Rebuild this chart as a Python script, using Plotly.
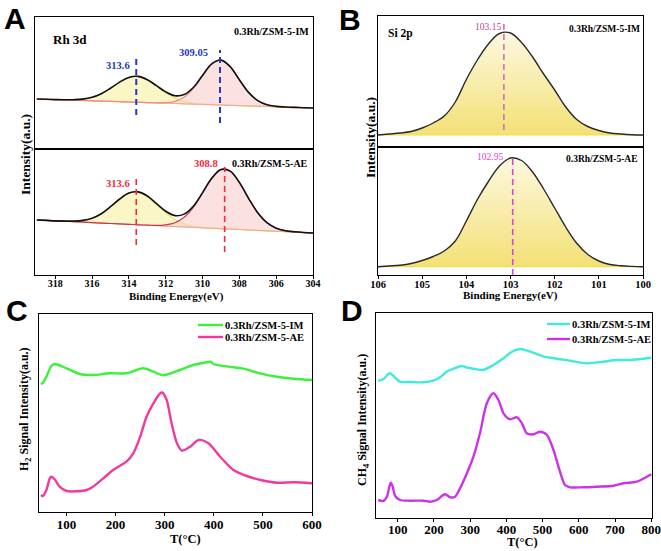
import plotly.graph_objects as go

W, H = 661, 551

# ---------------- Panel A: Rh 3d XPS ----------------
rh_ev = [319.0, 318.5, 318.0, 317.5, 317.0, 316.5, 316.0, 315.5, 315.0, 314.5, 314.0,
         313.5, 313.0, 312.5, 312.0, 311.5, 311.0, 310.5, 310.0, 309.5, 309.0, 308.5,
         308.0, 307.5, 307.0, 306.5, 306.0, 305.5, 305.0, 304.5, 304.0]
im_bg = [50.0, 49.7, 49.4, 49.1, 48.8, 48.5, 48.2, 47.9, 47.6, 47.3, 47.0, 46.7, 46.4, 46.1, 45.8,
         45.5, 45.2, 44.9, 44.6, 44.3, 44.0, 43.7, 43.4, 43.1, 42.8, 42.5, 42.2, 41.9, 41.6, 41.3, 41.0]
im_c1 = [50.0, 49.7, 49.4, 49.2, 49.3, 49.9, 51.7, 55.3, 60.8, 66.9, 71.6, 72.6, 69.3, 63.2, 56.5,
         51.1, 47.7, 45.8, 44.9, 44.4, 44.0, 43.7, 43.4, 43.1, 42.8, 42.5, 42.2, 41.9, 41.6, 41.3, 41.0]
im_c2 = [50.0, 49.7, 49.4, 49.1, 48.8, 48.5, 48.2, 47.9, 47.6, 47.3, 47.0, 46.7, 46.4, 46.2, 46.4,
         47.7, 51.9, 60.6, 73.3, 85.0, 88.9, 82.4, 69.3, 56.6, 48.3, 44.2, 42.6, 42.0, 41.6, 41.3, 41.0]
im_env = [50.0, 49.7, 49.4, 49.2, 49.3, 49.9, 51.7, 55.3, 60.8, 66.9, 71.6, 72.6, 69.3, 63.3, 57.1,
          53.3, 54.4, 61.5, 73.6, 85.1, 88.9, 82.4, 69.3, 56.6, 48.3, 44.2, 42.6, 42.0, 41.6, 41.3, 41.0]

ae_bg = [55.0, 54.6, 54.1, 53.7, 53.3, 52.8, 52.4, 51.9, 51.5, 51.1, 50.7, 50.2, 49.8, 49.3, 48.9,
         48.5, 48.1, 47.6, 47.2, 46.8, 46.3, 45.9, 45.5, 45.0, 44.6, 44.2, 43.7, 43.3, 42.9, 42.4, 42.0]
ae_c1 = [55.0, 54.6, 54.1, 53.9, 53.9, 54.6, 56.8, 61.3, 68.3, 76.0, 81.9, 83.1, 78.9, 71.0, 62.5,
         55.6, 51.3, 48.7, 47.6, 46.9, 46.3, 45.9, 45.5, 45.0, 44.6, 44.2, 43.7, 43.3, 42.9, 42.4, 42.0]
ae_c2 = [55.0, 54.6, 54.1, 53.7, 53.3, 52.8, 52.4, 51.9, 51.5, 51.1, 50.7, 50.2, 49.9, 49.6, 50.2,
         52.3, 57.7, 67.7, 82.0, 96.6, 105.4, 103.9, 92.6, 76.7, 62.2, 52.3, 46.8, 44.3, 43.2, 42.5, 42.0]
ae_env = [55.0, 54.6, 54.1, 53.9, 53.9, 54.6, 56.8, 61.3, 68.3, 76.0, 81.9, 83.1, 79.0, 71.3, 63.8,
          59.4, 60.9, 68.8, 82.4, 96.7, 105.4, 103.9, 92.6, 76.7, 62.2, 52.3, 46.8, 44.3, 43.2, 42.5, 42.0]
rh_peaks_im = [313.6, 309.05]
rh_peaks_ae = [313.6, 308.8]
rh_ticks = [318, 316, 314, 312, 310, 308, 306, 304]

# ---------------- Panel B: Si 2p XPS ----------------
si_ev = [106.0, 105.75, 105.5, 105.25, 105.0, 104.75, 104.5, 104.25, 104.0, 103.75, 103.5, 103.25,
         103.0, 102.75, 102.5, 102.25, 102.0, 101.75, 101.5, 101.25, 101.0, 100.75, 100.5, 100.25, 100.0]
si_im = [12.0, 13.0, 14.0, 15.5, 19.0, 24.0, 31.0, 45.0, 67.5, 87.0, 103.0, 113.5,
         114.0, 104.5, 90.0, 73.0, 57.0, 40.0, 27.5, 20.5, 16.5, 14.0, 13.0, 12.3, 12.0]
si_ae = [8.3, 9.0, 9.8, 11.5, 14.5, 18.5, 24.0, 34.0, 54.0, 75.5, 93.5, 109.0,
         117.0, 114.5, 103.0, 86.0, 67.0, 48.0, 31.7, 20.5, 14.0, 10.5, 9.2, 8.6, 8.3]
si_base_im = 12.0
si_base_ae = 8.3
si_peak_im = 103.15
si_peak_ae = 102.95
si_ticks = [106, 105, 104, 103, 102, 101, 100]

# ---------------- Panel C: H2 signal ----------------
c_im_t = [48, 52, 59, 69, 76, 100, 127, 154, 188, 222, 256, 277, 297, 331, 358, 386, 394, 399,
          440, 460, 494, 529, 563, 600]
c_im_v = [127.7, 129.3, 135.3, 146, 148, 143.7, 138, 137, 138.7, 138.7, 143.7, 140.3, 136.7, 142,
          147, 149.7, 150.3, 148, 144.7, 143.3, 138.7, 135.3, 133.3, 132]
c_ae_t = [48, 52, 59, 66, 69, 76, 86, 100, 120, 141, 154, 175, 195, 222, 236, 250, 263, 277, 291,
          295, 304, 314, 325, 335, 352, 369, 389, 413, 440, 467, 495, 529, 563, 600]
c_ae_v = [17, 16, 22, 33.7, 35.3, 32.7, 25.3, 21, 20.7, 22, 25.3, 33.7, 42, 50.3, 58.7, 75.3, 95.3,
          108.7, 118.7, 119.5, 112, 88.7, 68.7, 61.3, 65.3, 72, 68.7, 55.3, 42, 36, 32, 29.3, 29.7, 28.7]
c_ticks = [100, 200, 300, 400, 500, 600]

# ---------------- Panel D: CH4 signal ----------------
d_im_t = [46, 60, 74, 79, 92, 106, 134, 171, 198, 217, 235, 254, 277, 291, 309, 336, 364, 392, 415,
          438, 466, 502, 539, 576, 622, 668, 705, 742, 779, 800]
d_im_v = [137.3, 138.7, 144, 144.7, 140.7, 136.3, 136, 135.7, 137.3, 140.7, 146.3, 149.3, 152, 150.3,
          149.3, 148, 153, 159.7, 166.3, 169, 166.3, 161.7, 159.3, 157.3, 154.7, 156.3, 158, 158,
          159.3, 160.3]
d_ae_t = [46, 60, 70, 77, 81, 86, 93, 106, 134, 171, 189, 208, 222, 231, 245, 258, 272, 291, 309,
          327, 346, 364, 378, 392, 410, 429, 443, 456, 475, 493, 512, 530, 548, 562, 576, 613, 650,
          696, 723, 760, 800]
d_ae_v = [18, 17, 21.3, 31.3, 35.3, 31.3, 22, 18, 17.3, 17.3, 16.3, 18, 22, 23.7, 20.7, 21.3, 29.7,
          44.7, 61.3, 84.7, 114.7, 124.7, 118, 104.7, 98.7, 100.7, 94.7, 84.7, 83.7, 86.3, 83, 68,
          46.3, 33, 30.7, 30.7, 31.3, 32.3, 34.7, 36.3, 43.7]
d_ticks = [100, 200, 300, 400, 500, 600, 700, 800]

series_names = ["0.3Rh/ZSM-5-IM", "0.3Rh/ZSM-5-AE"]

SERIF = "Liberation Serif"
SANS = "Liberation Sans"


def px(x):
    return x / W


def py(y):
    return 1 - y / H


fig = go.Figure()


def add(tr, n):
    tr.xaxis = "x" if n == 1 else f"x{n}"
    tr.yaxis = "y" if n == 1 else f"y{n}"
    tr.showlegend = False
    fig.add_trace(tr)


# Panel A traces
for n, bg, c1, c2, env, c2line in [(1, im_bg, im_c1, im_c2, im_env, "#f08a8a"),
                                   (2, ae_bg, ae_c1, ae_c2, ae_env, "#c8385a")]:
    add(go.Scatter(x=rh_ev, y=bg, mode="lines", line=dict(color="#e9cf63", width=1.2,
                                                         shape="spline")), n)
    add(go.Scatter(x=rh_ev, y=c1, mode="lines", fill="tonexty",
                   fillcolor="rgba(246,238,150,0.55)",
                   line=dict(color="#ece25a", width=1.2, shape="spline")), n)
    add(go.Scatter(x=rh_ev, y=bg, mode="lines", line=dict(color="#f2a7a0", width=1.0,
                                                         shape="spline")), n)
    add(go.Scatter(x=rh_ev, y=c2, mode="lines", fill="tonexty",
                   fillcolor="rgba(250,205,205,0.6)",
                   line=dict(color=c2line, width=1.2, shape="spline")), n)
    add(go.Scatter(x=rh_ev, y=env, mode="lines",
                   line=dict(color="#111111", width=1.6, shape="spline")), n)

# Panel B traces
for n, yv, base in [(3, si_im, si_base_im), (4, si_ae, si_base_ae)]:
    add(go.Scatter(x=si_ev, y=[base] * len(si_ev), mode="lines",
                   line=dict(color="#f0e04a", width=1.2)), n)
    add(go.Scatter(x=si_ev, y=yv, mode="lines", fill="tonexty",
                   fillgradient=dict(type="vertical", start=base, stop=max(yv),
                                     colorscale=[[0, "#f3e175"], [1, "#fdf8e0"]]),
                   line=dict(color="#2a2a2a", width=1.4, shape="spline")), n)

# Panel C
add(go.Scatter(x=c_im_t, y=c_im_v, mode="lines", name=series_names[0],
               line=dict(color="#3cf03c", width=2.4, shape="spline", smoothing=0.8)), 5)
add(go.Scatter(x=c_ae_t, y=c_ae_v, mode="lines", name=series_names[1],
               line=dict(color="#f23a9c", width=2.4, shape="spline", smoothing=0.8)), 5)
# Panel D
add(go.Scatter(x=d_im_t, y=d_im_v, mode="lines", name=series_names[0],
               line=dict(color="#40eadc", width=2.4, shape="spline", smoothing=0.8)), 6)
add(go.Scatter(x=d_ae_t, y=d_ae_v, mode="lines", name=series_names[1],
               line=dict(color="#cc33e8", width=2.4, shape="spline", smoothing=0.8)), 6)

tickfont = lambda s: dict(family=SERIF, size=s, color="black", weight="bold")

frame = dict(showline=True, linecolor="black", linewidth=1.3, mirror=True,
             showgrid=False, zeroline=False)

doms = {
    1: ([35, 313], [17, 149]),
    2: ([35, 313], [149, 275]),
    3: ([378, 643], [16, 147]),
    4: ([378, 643], [147, 275]),
    5: ([39, 312], [314, 512]),
    6: ([376, 652], [313, 518]),
}
xr = {1: [319.1, 304], 2: [319.1, 304], 3: [106, 100], 4: [106, 100], 5: [44, 600], 6: [40, 802]}
yr = {1: [0, 132], 2: [0, 126], 3: [0, 131], 4: [0, 128], 5: [0, 198], 6: [0, 205]}
xt = {2: (rh_ticks, 10, -4), 4: (si_ticks, 10.5, -4), 5: (c_ticks, 13, -3), 6: (d_ticks, 13, -4)}

layout = dict(width=W, height=H, margin=dict(l=0, r=0, t=0, b=0, autoexpand=False),
              paper_bgcolor="white", plot_bgcolor="white", showlegend=False)
for n in range(1, 7):
    (x0, x1), (y0, y1) = doms[n]
    xa = dict(frame, domain=[px(x0), px(x1)], range=xr[n], anchor="y" if n == 1 else f"y{n}",
              automargin=False)
    if n in xt:
        xa.update(tickvals=xt[n][0], ticks="outside", ticklen=3, tickwidth=1.2,
                  tickcolor="black", tickfont=tickfont(xt[n][1]),
                  ticklabelstandoff=xt[n][2], ticklabeloverflow="allow")
    else:
        xa.update(showticklabels=False, ticks="")
    ya = dict(frame, domain=[py(y1), py(y0)], range=yr[n], showticklabels=False, ticks="",
              anchor="x" if n == 1 else f"x{n}", automargin=False)
    layout["xaxis" if n == 1 else f"xaxis{n}"] = xa
    layout["yaxis" if n == 1 else f"yaxis{n}"] = ya
fig.update_layout(**layout)

shapes = []
annotations = []


def vline(xref, yref, x, ylo, yhi, color, dash="6px,4px", width=2):
    shapes.append(dict(type="line", xref=xref, yref=yref, x0=x, x1=x, y0=ylo, y1=yhi,
                       line=dict(color=color, width=width, dash=dash)))


def text(x, y, s, size, color="black", family=SERIF, xanchor="center", angle=0, bold=True):
    annotations.append(dict(x=px(x), y=py(y), xref="paper", yref="paper", text=s,
                            showarrow=False, xanchor=xanchor, yanchor="middle",
                            textangle=angle,
                            font=dict(family=family, size=size, color=color,
                                      weight="bold" if bold else "normal")))


BLUE = "#2438c0"
RED = "#ee2a3c"
# A dashed lines
vline("x", "y", rh_peaks_im[0], 34, 94, BLUE)
vline("x", "y", rh_peaks_im[1], 26, 99, BLUE)
vline("x2", "y2", rh_peaks_ae[0], 30, 98, RED, width=1.6)
vline("x2", "y2", rh_peaks_ae[1], 23, 108, RED, width=1.6)
# B dashed lines
vline("x3", "y3", si_peak_im, 17, 127, "#d070b8", width=1.6)
vline("x4", "y4", si_peak_ae, 0, 120, "#e040e0", width=1.6)

# Panel A texts
text(70, 39, "Rh 3d", 13)
text(311, 32, series_names[0], 10, xanchor="right")
text(118, 66, "313.6", 10.5, BLUE)
text(193, 53, "309.05", 10.5, BLUE)
text(310, 163, series_names[1], 10, xanchor="right")
text(118, 183, "313.6", 10.5, RED)
text(206, 163, "308.8", 10.5, RED)
text(176, 296, "Binding Energy(eV)", 11)
text(25, 155, "Intensity(a.u.)", 13.5, angle=-90)

# Panel B texts
text(400, 34, "Si 2p", 11.5)
text(642, 29, series_names[0], 9.5, xanchor="right")
text(488, 27, "103.15", 9.5, "#b8449e", bold=False)
text(640, 159, series_names[1], 9.5, xanchor="right")
text(490, 157, "102.95", 9.5, "#e040e0", bold=False)
text(510, 295, "Binding Energy(eV)", 11)
text(370, 138, "Intensity(a.u.)", 13.5, angle=-90)

# Panel C texts
text(186, 539, "T(°C)", 12.5)
text(25, 409, "H<sub>2</sub> Signal Intensity(a.u.)", 12, angle=-90)
# Panel D texts
text(522, 542, "T(°C)", 12.5)
text(363, 420, "CH<sub>4</sub> Signal Intensity(a.u.)", 12, angle=-90)

# legends (drawn)
for (lx0, lx1, ly, col, name) in [(198, 223, 325, "#3cf03c", series_names[0]),
                                  (198, 223, 337, "#f23a9c", series_names[1]),
                                  (547, 570, 324, "#40eadc", series_names[0]),
                                  (547, 570, 339, "#cc33e8", series_names[1])]:
    shapes.append(dict(type="line", xref="paper", yref="paper", x0=px(lx0), x1=px(lx1),
                       y0=py(ly), y1=py(ly), line=dict(color=col, width=2.4)))
    text(lx1, ly, name, 10.5, xanchor="left")

# panel letters
text(15, 19, "A", 30, family=SANS)
text(350, 20, "B", 30, family=SANS)
text(17, 311, "C", 30, family=SANS)
text(352, 311, "D", 30, family=SANS)

fig.update_layout(shapes=shapes, annotations=annotations)
fig.write_html("out.html", config={"displayModeBar": False},
               post_script="document.body.style.margin='0px';")
